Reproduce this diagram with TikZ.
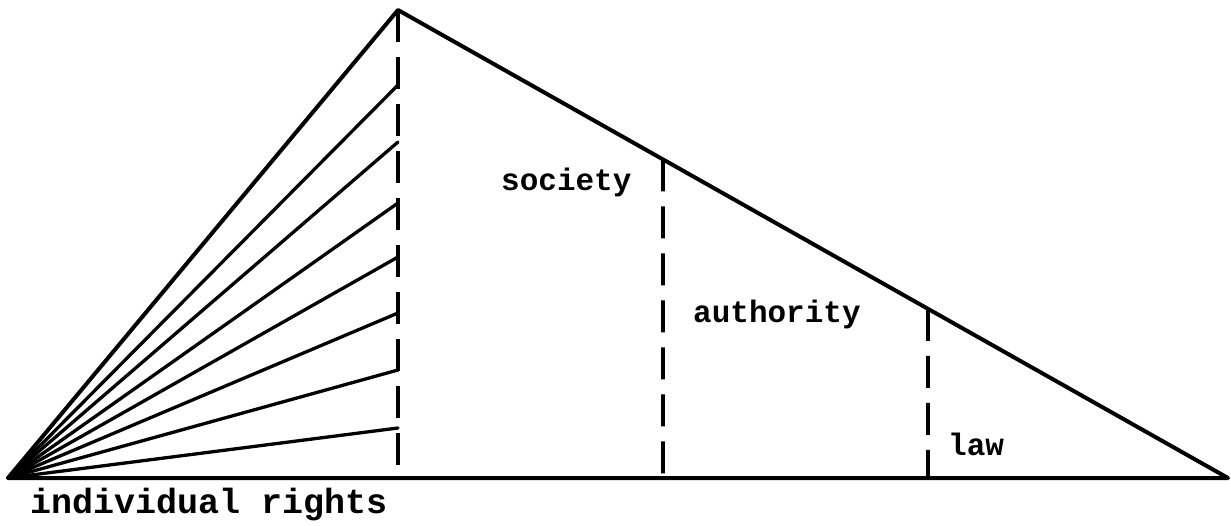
\documentclass[tikz,border=0pt]{standalone}
\usepackage{fontspec}
\setmonofont{Liberation Mono}
\usetikzlibrary{calc}
\tikzset{
  solidline/.style={line width=4pt, line cap=round, line join=round},
  fanline/.style={line width=3.3pt, line cap=round},
  divider/.style={line width=3.8pt, dash pattern=on 32pt off 15pt},
  lbl/.style={anchor=base west, inner sep=0pt, font=\ttfamily\bfseries\fontsize{31}{31}\selectfont},
}
\begin{document}
\begin{tikzpicture}[x=1pt,y=-1pt]
\useasboundingbox (0,0) rectangle (1231,525);
\coordinate (A) at (8,478);
\coordinate (T) at (398,10);
\coordinate (R) at (1228,478);
\coordinate (B) at (398,478);
\coordinate (S) at ($(T)!0.3193!(R)$);
\coordinate (U) at ($(T)!0.6386!(R)$);
\coordinate (Sb) at (663,478);
\coordinate (Ub) at (928,478);
% fan end points
\foreach \n/\y in {1/85,2/142,3/203,4/257,5/313,6/370,7/428}{
  \coordinate (f\n) at (398,\y);
}
% triangle
\draw[solidline] (A) -- (T) -- (R) -- cycle;
% fan
\foreach \n in {1,...,7}{
  \draw[fanline] (A) -- (f\n);
}
% dividers
\draw[divider] (T) -- (B);
\draw[divider] (S) -- (Sb);
\draw[divider] (U) -- (Ub);
% labels
\node[lbl] (soc) at (501,190) {society};
\node[lbl] (auth) at (693,322) {authority};
\node[lbl] (law) at (948,455) {law};
\node[lbl, font=\ttfamily\bfseries\fontsize{35}{35}\selectfont] (ind) at (30,513) {individual rights};
\end{tikzpicture}
\end{document}
